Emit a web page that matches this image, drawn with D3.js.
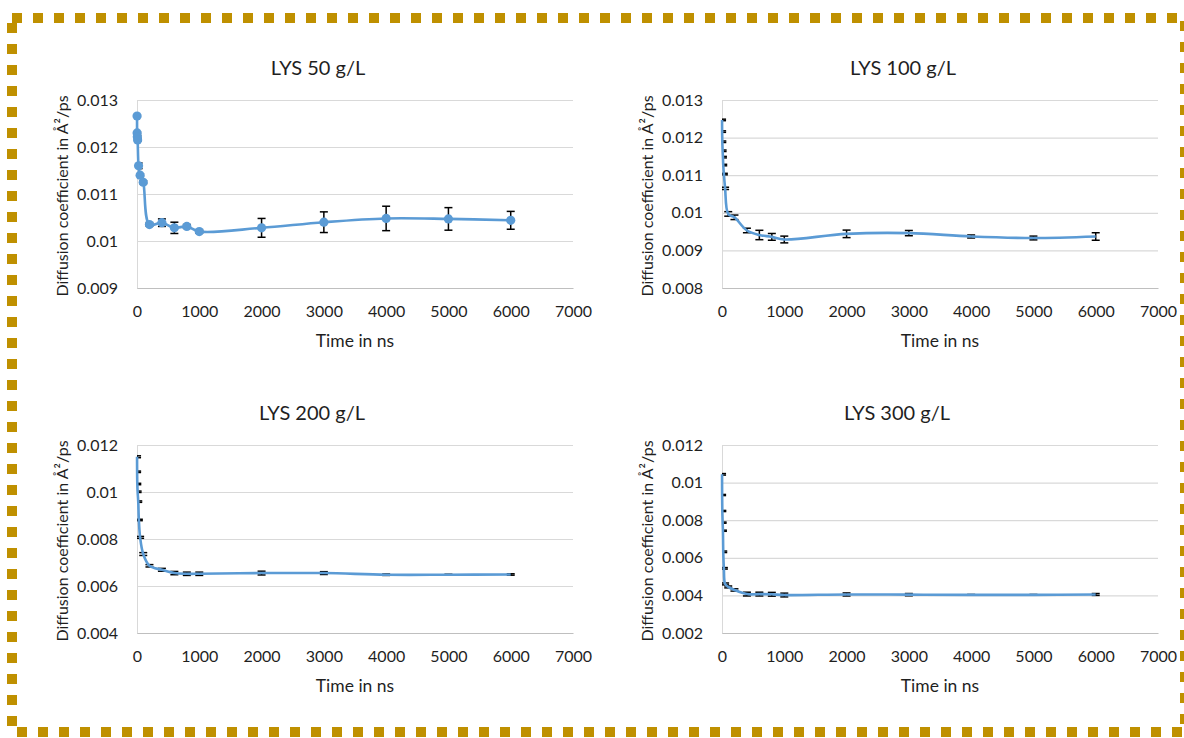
<!DOCTYPE html>
<html>
<head>
<meta charset="utf-8">
<script src="https://cdn.jsdelivr.net/npm/d3@7"></script>
<style>
  html, body { margin: 0; padding: 0; background: #fff; }
  svg { display: block; }
  text { font-family: Lato, "Open Sans", sans-serif; fill: #1f1f1f; }
</style>
</head>
<body>
<svg id="chart" width="1184" height="738"></svg>
<script>
// Lysozyme self-diffusion coefficient vs. simulation time, four concentrations
const timeTicks = [0, 1000, 2000, 3000, 4000, 5000, 6000, 7000];
const timeTickLabels = ["0", "1000", "2000", "3000", "4000", "5000", "6000", "7000"];

const times50 = [1, 2, 5, 10, 25, 50, 100, 200, 400, 600, 800, 1000, 2000, 3000, 4000, 5000, 6000];
const diff50  = [0.01266, 0.01230, 0.01222, 0.01215, 0.01160, 0.01140, 0.01125, 0.01035, 0.01039, 0.01028, 0.01031, 0.01020, 0.01028, 0.01040, 0.01048, 0.01047, 0.01044];
const err50   = [0.00002, 0.00002, 0.00002, 0.00002, 0.00006, 0.00003, 0.00003, 0.00003, 0.00008, 0.00012, 0.00004, 0.00003, 0.00020, 0.00022, 0.00026, 0.00024, 0.00019];
const yTicks50 = [0.009, 0.010, 0.011, 0.012, 0.013];
const yTickLabels50 = ["0.009", "0.01", "0.011", "0.012", "0.013"];

const times100 = [1, 2, 5, 10, 15, 20, 30, 50, 100, 200, 400, 600, 800, 1000, 2000, 3000, 4000, 5000, 6000];
const diff100  = [0.01247, 0.01216, 0.01189, 0.01165, 0.01148, 0.01127, 0.01103, 0.01065, 0.00997, 0.00988, 0.00953, 0.00941, 0.00936, 0.00929, 0.00944, 0.00946, 0.00937, 0.00933, 0.00937];
const err100   = [0.00002, 0.00002, 0.00002, 0.00002, 0.00002, 0.00002, 0.00002, 0.00003, 0.00006, 0.00006, 0.00006, 0.000125, 0.00009, 0.00009, 0.0001, 0.00007, 0.00004, 0.00005, 0.0001];
const yTicks100 = [0.008, 0.009, 0.010, 0.011, 0.012, 0.013];
const yTickLabels100 = ["0.008", "0.009", "0.01", "0.011", "0.012", "0.013"];

const times200 = [1, 2, 5, 10, 20, 30, 50, 100, 200, 400, 600, 800, 1000, 2000, 3000, 4000, 5000, 6000];
const diff200  = [0.01150, 0.01086, 0.01034, 0.01001, 0.00959, 0.00881, 0.00807, 0.00736, 0.00686, 0.00669, 0.00655, 0.00652, 0.00652, 0.00655, 0.00655, 0.00648, 0.00648, 0.00649];
const err200   = [0.00004, 0.00003, 0.00003, 0.00003, 0.00003, 0.00003, 0.00004, 0.00006, 0.00005, 0.00006, 0.00007, 0.00007, 0.00007, 0.00008, 0.00006, 0.00003, 0.00002, 0.00003];
const yTicks200 = [0.004, 0.006, 0.008, 0.010, 0.012];
const yTickLabels200 = ["0.004", "0.006", "0.008", "0.01", "0.012"];

const times300 = [1, 2, 5, 10, 15, 20, 30, 50, 100, 200, 400, 600, 800, 1000, 2000, 3000, 4000, 5000, 6000];
const diff300  = [0.01044, 0.00934, 0.00849, 0.00787, 0.00744, 0.00632, 0.00544, 0.00461, 0.00445, 0.00429, 0.00407, 0.00407, 0.00406, 0.00402, 0.00405, 0.00404, 0.00403, 0.00403, 0.00405];
const err300   = [0.00004, 0.00003, 0.00003, 0.00003, 0.00003, 0.00004, 0.00004, 0.00005, 0.00005, 0.00006, 0.0001, 0.0001, 0.0001, 0.0001, 0.00008, 0.00006, 0.00002, 0.00002, 0.00005];
const yTicks300 = [0.002, 0.004, 0.006, 0.008, 0.010, 0.012];
const yTickLabels300 = ["0.002", "0.004", "0.006", "0.008", "0.01", "0.012"];

const panelTitles = ["LYS 50 g/L", "LYS 100 g/L", "LYS 200 g/L", "LYS 300 g/L"];
const xTitle = "Time in ns";
const yTitle = "Diffusion coefficient in Å²/ps";

const panels = [
  { title: panelTitles[0], t: times50,  d: diff50,  e: err50,  yt: yTicks50,  yl: yTickLabels50,  markers: true,
    box: { left: 137, right: 573, top: 100, bottom: 288 }, titleX: 318 },
  { title: panelTitles[1], t: times100, d: diff100, e: err100, yt: yTicks100, yl: yTickLabels100, markers: false,
    box: { left: 722, right: 1158, top: 100, bottom: 288 }, titleX: 903 },
  { title: panelTitles[2], t: times200, d: diff200, e: err200, yt: yTicks200, yl: yTickLabels200, markers: false,
    box: { left: 137, right: 573, top: 445, bottom: 633 }, titleX: 312 },
  { title: panelTitles[3], t: times300, d: diff300, e: err300, yt: yTicks300, yl: yTickLabels300, markers: false,
    box: { left: 722, right: 1158, top: 445, bottom: 633 }, titleX: 897 }
];

const svg = d3.select("#chart");
const lineColor = "#5B9BD5";

// dotted gold frame around the figure
svg.append("rect")
  .attr("x", 12).attr("y", 18)
  .attr("width", 1173).attr("height", 714)
  .attr("fill", "none")
  .attr("stroke", "#BF9000")
  .attr("stroke-width", 10)
  .attr("stroke-dasharray", "10 11");

panels.forEach((p, k) => {
  const b = p.box;
  const x = d3.scaleLinear().domain([timeTicks[0], timeTicks[timeTicks.length - 1]]).range([b.left, b.right]);
  const y = d3.scaleLinear().domain([p.yt[0], p.yt[p.yt.length - 1]]).range([b.bottom, b.top]);
  const g = svg.append("g");

  // plot-area clip for error bars
  const clipId = "plot-clip-" + k;
  svg.append("clipPath").attr("id", clipId).append("rect")
    .attr("x", b.left).attr("y", b.top - 2)
    .attr("width", b.right - b.left).attr("height", b.bottom - b.top + 4);

  // horizontal gridlines
  const yAxis = d3.axisLeft(y).tickValues(p.yt).tickSize(-(b.right - b.left)).tickPadding(19)
    .tickFormat((d, i) => p.yl[i]);
  const ya = g.append("g").attr("transform", `translate(${b.left},0)`).call(yAxis);
  ya.select(".domain").attr("stroke", "#D9D9D9");
  ya.selectAll(".tick line").attr("stroke", "#D9D9D9").attr("stroke-width", 1.2);
  ya.selectAll(".tick text").attr("font-size", 16).attr("fill", "#1f1f1f")
    .style("font-family", "Lato, sans-serif");

  // bottom axis with tick labels
  const xAxis = d3.axisBottom(x).tickValues(timeTicks).tickSize(0).tickPadding(18)
    .tickFormat((d, i) => timeTickLabels[i]);
  const xa = g.append("g").attr("transform", `translate(0,${b.bottom})`).call(xAxis);
  xa.select(".domain").attr("stroke", "#BFBFBF").attr("stroke-width", 1.2);
  xa.selectAll(".tick text").attr("font-size", 16).attr("fill", "#1f1f1f")
    .style("font-family", "Lato, sans-serif");

  // titles
  g.append("text").attr("x", p.titleX).attr("y", b.top - 25)
    .attr("text-anchor", "middle").attr("font-size", 20).text(p.title);
  g.append("text").attr("x", (b.left + b.right) / 2).attr("y", b.bottom + 59)
    .attr("text-anchor", "middle").attr("font-size", 17.5).text(xTitle);
  g.append("text")
    .attr("transform", `translate(${b.left - 69},${(b.top + b.bottom) / 2 + 2}) rotate(-90)`)
    .attr("text-anchor", "middle").attr("font-size", 16).text(yTitle);

  const pts = p.t.map((t, i) => ({ t, v: p.d[i], e: p.e[i] }));

  // error bars
  const eb = g.append("g").attr("clip-path", `url(#${clipId})`)
    .attr("stroke", "#000").attr("stroke-width", 1.5);
  const cap = 4;
  pts.forEach(d => {
    const cx = x(d.t), y1 = y(d.v + d.e), y2 = y(d.v - d.e);
    eb.append("line").attr("x1", cx).attr("x2", cx).attr("y1", y1).attr("y2", y2);
    eb.append("line").attr("x1", cx - cap).attr("x2", cx + cap).attr("y1", y1).attr("y2", y1);
    eb.append("line").attr("x1", cx - cap).attr("x2", cx + cap).attr("y1", y2).attr("y2", y2);
  });

  // smoothed series line
  const line = d3.line().x(d => x(d.t)).y(d => y(d.v)).curve(d3.curveCatmullRom.alpha(0.5));
  g.append("path").datum(pts).attr("d", line)
    .attr("fill", "none").attr("stroke", lineColor).attr("stroke-width", 2.6)
    .attr("stroke-linejoin", "round");

  if (p.markers) {
    g.append("g").selectAll("circle").data(pts).join("circle")
      .attr("cx", d => x(d.t)).attr("cy", d => y(d.v)).attr("r", 4.6)
      .attr("fill", lineColor);
  }
});
</script>
</body>
</html>
